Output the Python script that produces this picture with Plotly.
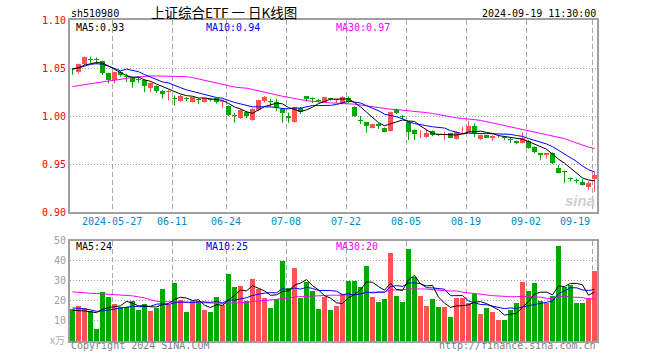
import numpy as np
import pandas as pd
import plotly.graph_objects as go

# ---------------- data ----------------
tick_idx = [7, 17, 26, 36, 46, 56, 66, 76, 87]
tick_labels = ["2024-05-27", "06-11", "06-24", "07-08", "07-22",
               "08-05", "08-19", "09-02", "09-19"]

opens = [1.0472, 1.0455, 1.0540, 1.0595, 1.0585, 1.0570, 1.0445, 1.0375, 1.0455, 1.0415,
         1.0400, 1.0385, 1.0375, 1.0295, 1.0316, 1.0264, 1.0250, 1.0185, 1.0160, 1.0185,
         1.0146, 1.0170, 1.0146, 1.0170, 1.0187, 1.0145, 1.0104, 1.0005, 0.9982, 1.0040,
         0.9958, 1.0063, 1.0156, 1.0155, 1.0143, 1.0070, 1.0003, 0.9941, 1.0080, 1.0208,
         1.0178, 1.0163, 1.0150, 1.0178, 1.0167, 1.0132, 1.0184, 1.0097, 0.9955, 0.9934,
         0.9878, 0.9920, 0.9872, 0.9847, 1.0063, 0.9998, 0.9940, 0.9854, 0.9808, 0.9785,
         0.9844, 0.9803, 0.9798, 0.9820, 0.9760, 0.9850, 0.9837, 0.9896, 0.9760, 0.9800,
         0.9768, 0.9787, 0.9770, 0.9752, 0.9740, 0.9715, 0.9743, 0.9680, 0.9611, 0.9597,
         0.9611, 0.9458, 0.9425, 0.9355, 0.9335, 0.9316, 0.9264, 0.9341]
closes = [1.0465, 1.0540, 1.0615, 1.0585, 1.0580, 1.0445, 1.0370, 1.0455, 1.0427, 1.0405,
          1.0357, 1.0380, 1.0316, 1.0347, 1.0264, 1.0229, 1.0260, 1.0180, 1.0212, 1.0180,
          1.0197, 1.0166, 1.0187, 1.0166, 1.0146, 1.0150, 1.0010, 1.0000, 1.0063, 0.9997,
          1.0070, 1.0167, 1.0195, 1.0150, 1.0087, 1.0035, 0.9976, 1.0090, 1.0045, 1.0174,
          1.0174, 1.0160, 1.0195, 1.0174, 1.0174, 1.0201, 1.0150, 1.0000, 0.9951, 0.9899,
          0.9913, 0.9892, 0.9837, 1.0045, 1.0028, 0.9993, 0.9837, 0.9813, 0.9810, 0.9820,
          0.9802, 0.9800, 0.9800, 0.9774, 0.9837, 0.9854, 0.9900, 0.9820, 0.9800, 0.9774,
          0.9795, 0.9790, 0.9768, 0.9750, 0.9715, 0.9768, 0.9670, 0.9628, 0.9595, 0.9611,
          0.9510, 0.9406, 0.9420, 0.9344, 0.9323, 0.9280, 0.9300, 0.9385]
highs = [1.0500, 1.0545, 1.0620, 1.0620, 1.0610, 1.0575, 1.0450, 1.0460, 1.0470, 1.0440,
         1.0410, 1.0410, 1.0380, 1.0350, 1.0320, 1.0270, 1.0270, 1.0215, 1.0220, 1.0197,
         1.0200, 1.0187, 1.0190, 1.0180, 1.0190, 1.0170, 1.0110, 1.0030, 1.0070, 1.0050,
         1.0080, 1.0170, 1.0210, 1.0180, 1.0180, 1.0080, 1.0035, 1.0095, 1.0095, 1.0210,
         1.0195, 1.0180, 1.0200, 1.0190, 1.0180, 1.0205, 1.0205, 1.0100, 1.0000, 0.9940,
         0.9920, 0.9925, 0.9880, 1.0050, 1.0080, 1.0010, 0.9945, 0.9860, 0.9854, 0.9854,
         0.9850, 0.9815, 0.9835, 0.9825, 0.9840, 0.9885, 0.9950, 0.9925, 0.9805, 0.9805,
         0.9800, 0.9805, 0.9780, 0.9780, 0.9745, 0.9830, 0.9750, 0.9685, 0.9615, 0.9615,
         0.9620, 0.9490, 0.9430, 0.9360, 0.9350, 0.9340, 0.9320, 0.9420]
lows = [1.0430, 1.0440, 1.0530, 1.0550, 1.0540, 1.0430, 1.0340, 1.0340, 1.0410, 1.0355,
        1.0295, 1.0345, 1.0247, 1.0247, 1.0240, 1.0180, 1.0160, 1.0110, 1.0150, 1.0155,
        1.0140, 1.0125, 1.0140, 1.0150, 1.0130, 1.0080, 1.0000, 0.9930, 0.9970, 0.9980,
        0.9950, 1.0050, 1.0140, 1.0100, 1.0050, 0.9930, 0.9930, 0.9930, 1.0020, 1.0150,
        1.0135, 1.0140, 1.0145, 1.0160, 1.0132, 1.0120, 1.0132, 0.9990, 0.9917, 0.9826,
        0.9870, 0.9865, 0.9830, 0.9840, 1.0020, 0.9970, 0.9750, 0.9750, 0.9767, 0.9767,
        0.9790, 0.9790, 0.9750, 0.9770, 0.9755, 0.9815, 0.9830, 0.9780, 0.9750, 0.9770,
        0.9740, 0.9770, 0.9750, 0.9720, 0.9705, 0.9715, 0.9660, 0.9610, 0.9540, 0.9555,
        0.9500, 0.9400, 0.9300, 0.9320, 0.9300, 0.9275, 0.9229, 0.9210]
volumes = [16.0, 17.5, 16.3, 15.0, 5.8, 24.3, 22.0, 18.5, 17.0, 17.0,
           19.8, 15.3, 18.5, 14.8, 16.5, 25.8, 17.8, 28.8, 20.3, 14.3,
           19.7, 19.7, 15.3, 14.3, 21.8, 17.8, 33.3, 26.8, 27.3, 19.7,
           30.8, 25.8, 21.3, 16.3, 20.8, 39.8, 26.3, 36.3, 21.3, 29.3,
           24.7, 15.8, 21.8, 15.3, 17.5, 23.2, 30.0, 30.0, 27.0, 37.5,
           21.8, 19.5, 20.8, 44.0, 22.3, 19.5, 45.8, 32.0, 22.5, 17.5,
           20.8, 16.8, 16.8, 11.8, 21.3, 21.3, 18.8, 23.5, 13.3, 16.3,
           14.3, 10.3, 10.3, 15.3, 18.8, 29.3, 24.8, 28.8, 20.0, 18.8,
           22.5, 47.3, 27.0, 28.0, 18.8, 18.8, 21.5, 34.8]

# moving-average values at the left edge (history before the window)
ma5_head = [1.0486, 1.0503, 1.0530, 1.0540]
ma10_head = [1.0494, 1.0500, 1.0520, 1.0538, 1.0545, 1.0538, 1.0520, 1.0494, 1.0470]
ma30_head = [1.0306, 1.0316, 1.0330, 1.0340, 1.0350, 1.0358, 1.0365, 1.0372, 1.0379, 1.0392,
             1.0403, 1.0410, 1.0413, 1.0417, 1.0417, 1.0417, 1.0417, 1.0417, 1.0417, 1.0410,
             1.0400, 1.0386, 1.0372, 1.0355, 1.0340, 1.0326, 1.0313, 1.0302, 1.0295]
vma5_head = [15.3, 15.3, 15.0, 14.5]
vma10_head = [16.5, 16.3, 16.0, 15.5, 14.8, 15.0, 15.5, 16.0, 16.5]
vma30_head = [24.5, 24.2, 24.0, 23.8, 23.7, 23.5, 23.3, 23.2, 23.0, 22.8,
              22.5, 22.0, 21.5, 20.5, 19.8, 19.6, 19.5, 19.4, 19.3, 19.2,
              19.1, 19.0, 18.9, 18.8, 18.8, 18.8, 18.9, 19.0, 19.1]

price_ticks = [0.90, 0.95, 1.00, 1.05, 1.10]
vol_ticks = [10, 20, 30, 40, 50]

# ---------------- helpers ----------------
def moving_avg(values, n, head):
    s = pd.Series(values, dtype=float).rolling(n).mean().to_numpy()
    s[:n - 1] = head
    return s

N = len(closes)
idx = np.arange(N)
o = np.array(opens); c = np.array(closes); h = np.array(highs); l = np.array(lows)
up = c >= o

RED = "#FF5252"
GREEN = "#00A800"

fig = go.Figure()

# wicks
for mask, col in ((up, RED), (~up, GREEN)):
    xs, ys = [], []
    for i in idx[mask]:
        xs += [i, i, None]
        ys += [l[i], h[i], None]
    fig.add_trace(go.Scatter(x=xs, y=ys, mode="lines", line=dict(color=col, width=1),
                             hoverinfo="skip", showlegend=False, xaxis="x", yaxis="y"))
# bodies
for mask, col in ((up, RED), (~up, GREEN)):
    bottom = np.minimum(o, c)[mask]
    height = np.maximum(np.abs(c - o)[mask], 0.0009)
    fig.add_trace(go.Bar(x=idx[mask], y=height, base=bottom, width=5 / 6,
                         marker=dict(color=col, line=dict(width=0)),
                         showlegend=False, xaxis="x", yaxis="y"))

# price MAs
for n, head, col in ((30, ma30_head, "#FF00FF"), (10, ma10_head, "#0000FF"), (5, ma5_head, "#000000")):
    fig.add_trace(go.Scatter(x=idx, y=moving_avg(closes, n, head), mode="lines",
                             line=dict(color=col, width=1), showlegend=False,
                             xaxis="x", yaxis="y"))

# volume bars
vol_colors = [RED if u else GREEN for u in up]
fig.add_trace(go.Bar(x=idx, y=volumes, width=5 / 6,
                     marker=dict(color=vol_colors, line=dict(width=0)),
                     showlegend=False, xaxis="x2", yaxis="y2"))
for n, head, col in ((30, vma30_head, "#FF00FF"), (10, vma10_head, "#0000FF"), (5, vma5_head, "#000000")):
    fig.add_trace(go.Scatter(x=idx, y=moving_avg(volumes, n, head), mode="lines",
                             line=dict(color=col, width=1), showlegend=False,
                             xaxis="x2", yaxis="y2"))

# ---------------- layout ----------------
# the page body margin is removed by post_script, so figure pixels == window pixels
W, H = 660, 360
PL, PR, PT, PB = 70, 597, 20, 341          # plot area in window pixels
L, R, T, B = PL, W - PR, PT, H - PB
pw, ph = PR - PL, PB - PT
def px(x):
    return (x - PL) / pw
def py(y):
    return (PB - y) / ph

off = -2.5 / 6
xrange_ = [-2.5 / 6, N - 1 + 2.5 / 6]
grid_x = [t + off for t in tick_idx]

MONO = "DejaVu Sans Mono"
axis_common = dict(showline=True, mirror=True, linecolor="#A0A0A0", linewidth=2,
                   zeroline=False, ticks="", fixedrange=True, automargin=False)

fig.update_layout(
    template="none",
    width=W, height=H,
    margin=dict(l=L, r=R, t=T, b=B, pad=0, autoexpand=False),
    paper_bgcolor="white", plot_bgcolor="white",
    barmode="overlay", bargap=0,
    showlegend=False,
    xaxis=dict(domain=[0, 1], range=xrange_, anchor="y", tickvals=grid_x,
               showticklabels=False, showgrid=True, gridcolor="#A8A8A8",
               griddash="5px,3px", gridwidth=1, **axis_common),
    yaxis=dict(domain=[py(212), 1], range=[0.90, 1.10], tickvals=price_ticks,
               ticktext=[f"{v:.2f}" for v in price_ticks],
               tickfont=dict(family=MONO, size=10, color="#FF0000"),
               showgrid=True, gridcolor="#A0A0A0", griddash="1px,2px", gridwidth=1,
               **axis_common),
    xaxis2=dict(domain=[0, 1], range=xrange_, anchor="y2", tickvals=grid_x,
                showticklabels=False, showgrid=True, gridcolor="#A8A8A8",
                griddash="5px,3px", gridwidth=1, **axis_common),
    yaxis2=dict(domain=[0, py(240.7)], range=[0, 50], tickvals=vol_ticks,
                tickfont=dict(family=MONO, size=10, color="#A0A0A0"),
                showgrid=True, gridcolor="#A0A0A0", griddash="1px,2px", gridwidth=1,
                **axis_common),
)

ann = []
def text(x, y, s, color="#000000", size=10, xanchor="left", family=MONO, xref="paper", **kw):
    ann.append(dict(x=x, y=y, xref=xref, yref="paper", text=s, showarrow=False,
                    xanchor=xanchor, yanchor="middle", borderpad=0,
                    font=dict(family=family, size=size, color=color), **kw))

text(px(70), py(13), "sh510980")
text(px(224), py(12), "上证综合ETF 一 日K线图", size=13.5, xanchor="center",
     family="Noto Sans CJK SC")
text(px(597), py(13), "2024-09-19 11:30:00", xanchor="right")

text(px(75), py(27), "MA5:0.93", "#000000")
text(px(205), py(27), "MA10:0.94", "#0000FF")
text(px(335), py(27), "MA30:0.97", "#FF00FF")
text(px(75), py(246), "MA5:24", "#000000")
text(px(205), py(246), "MA10:25", "#0000FF")
text(px(335), py(246), "MA30:20", "#FF00FF")

for t, lab in zip(grid_x, tick_labels):
    if lab == tick_labels[-1]:
        text(t - 0.1, py(221.5), lab, "#0088CC", xanchor="right", xref="x")
    else:
        text(t, py(221.5), lab, "#0088CC", xanchor="center", xref="x")

text(px(70), py(346), "Copyright 2024 SINA.COM", "#808080")
text(px(597), py(346), "http://finance.sina.com.cn", "#808080", xanchor="right")
text(px(66), py(339), "x万", "#B0B0B0", size=10, xanchor="right", family="Noto Sans CJK SC")
text(px(596), py(200), "<b><i>sina</i></b>", "#D0D0D0", size=15, xanchor="right",
     family="Liberation Sans")

fig.update_layout(annotations=ann)
fig.write_html("out.html",
               config={"displayModeBar": False, "staticPlot": True},
               post_script="document.body.style.margin='0';document.body.style.overflow='hidden';")
